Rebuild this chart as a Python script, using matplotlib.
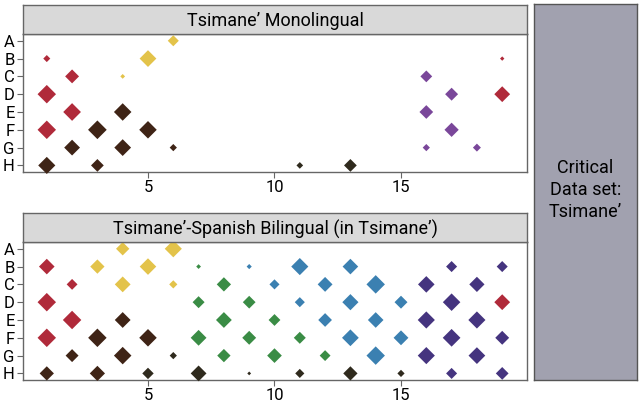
import numpy as np
import matplotlib.pyplot as plt

plt.rcParams['font.family'] = ['Liberation Sans Narrow', 'Roboto', 'DejaVu Sans']

rows = ['A', 'B', 'C', 'D', 'E', 'F', 'G', 'H']

# Tsimane' Monolingual
mono_x = [6, 1, 5, 19, 2, 4, 16, 1, 17, 19, 2, 4, 16, 1, 3, 5, 17,
          2, 4, 6, 16, 18, 1, 3, 11, 13]
mono_row = ['A', 'B', 'B', 'B', 'C', 'C', 'C', 'D', 'D', 'D', 'E', 'E', 'E',
            'F', 'F', 'F', 'F', 'G', 'G', 'G', 'G', 'G', 'H', 'H', 'H', 'H']
mono_size = [5.8, 3.7, 8.8, 2.3, 7.3, 2.5, 6.2, 9.7, 6.8, 8.3, 9.3, 9.2, 7.2,
             9.7, 9.8, 9.2, 7.5, 8.3, 8.8, 3.8, 3.8, 4.2, 9.0, 6.7, 3.5, 6.7]
mono_grp = ['yellow', 'red', 'yellow', 'red', 'red', 'yellow', 'purple',
            'red', 'purple', 'red', 'red', 'brown', 'purple', 'red', 'brown',
            'brown', 'purple', 'brown', 'brown', 'brown', 'purple', 'purple',
            'brown', 'brown', 'dark', 'dark']

# Tsimane'-Spanish Bilingual (in Tsimane')
bil_x = [4, 6,
         1, 3, 5, 7, 9, 11, 13, 17, 19,
         2, 4, 6, 8, 10, 12, 14, 16, 18,
         1, 7, 9, 11, 13, 15, 17, 19,
         2, 4, 8, 10, 12, 14, 16, 18,
         1, 3, 5, 7, 9, 11, 13, 15, 17, 19,
         2, 4, 6, 8, 10, 12, 14, 16, 18,
         1, 3, 5, 7, 9, 11, 13, 15, 17, 19]
bil_row = (['A'] * 2 + ['B'] * 9 + ['C'] * 9 + ['D'] * 8 + ['E'] * 8
           + ['F'] * 10 + ['G'] * 9 + ['H'] * 10)
bil_size = [7.0, 9.0,
            8.2, 7.5, 8.7, 2.5, 2.7, 9.0, 8.2, 5.8, 5.8,
            5.7, 8.3, 4.3, 7.5, 5.3, 7.8, 9.7, 8.7, 8.0,
            9.7, 6.3, 6.7, 5.3, 8.5, 6.8, 9.2, 8.3,
            9.7, 8.3, 8.3, 6.2, 7.2, 8.2, 9.0, 9.0,
            9.7, 9.7, 9.2, 8.3, 7.3, 6.3, 8.8, 7.8, 9.3, 7.3,
            6.8, 9.2, 3.8, 7.0, 7.7, 5.7, 9.7, 9.0, 8.8,
            7.5, 8.0, 6.0, 8.3, 2.0, 4.8, 7.5, 3.8, 5.8, 6.7]
bil_grp = (['yellow', 'yellow']
           + ['red', 'yellow', 'yellow', 'green', 'blue', 'blue', 'blue', 'indigo', 'indigo']
           + ['red', 'yellow', 'yellow', 'green', 'blue', 'blue', 'blue', 'indigo', 'indigo']
           + ['red', 'green', 'green', 'blue', 'blue', 'blue', 'indigo', 'red']
           + ['red', 'brown', 'green', 'green', 'blue', 'blue', 'indigo', 'indigo']
           + ['red', 'brown', 'brown', 'green', 'green', 'green', 'blue', 'blue', 'indigo', 'indigo']
           + ['brown', 'brown', 'dark', 'green', 'green', 'green', 'blue', 'indigo', 'indigo']
           + ['brown', 'brown', 'dark', 'dark', 'dark', 'dark', 'dark', 'dark', 'indigo', 'indigo'])

colors = {'red': '#b02a3a', 'yellow': '#e3c34a', 'brown': '#3f2416',
          'dark': '#2f2a1d', 'green': '#3a8c45', 'blue': '#3b80b1',
          'purple': '#7a479a', 'indigo': '#45347f'}

W, H = 642, 405
fig = plt.figure(figsize=(W / 100, H / 100), dpi=100)


def panel(top, title, xs, rws, sizes, grps):
    # top in pixels from the top edge of the figure
    ax = fig.add_axes([23 / W, 1 - (top + 138) / H, 504 / W, 138 / H])
    ys = [rows.index(r) for r in rws]
    cs = [colors[g] for g in grps]
    ax.scatter(xs, ys, s=(np.array(sizes) * 0.97) ** 2, c=cs, marker='D',
               linewidths=0, clip_on=False, zorder=3)
    ax.set_xlim(0.06, 19.98)
    ax.set_ylim(7.37, -0.38)
    ax.set_xticks([5, 10, 15])
    ax.set_yticks(range(8))
    ax.set_yticklabels(rows)
    for s in ax.spines.values():
        s.set_color('#666666')
        s.set_linewidth(1.0)
    ax.tick_params(colors='#666666', labelcolor='black', labelsize=12,
                   length=4, width=0.8, pad=2)
    # strip header
    sax = fig.add_axes([23 / W, 1 - top / H, 504 / W, 29 / H])
    sax.set_xticks([])
    sax.set_yticks([])
    sax.set_facecolor('#d9d9d9')
    for s in sax.spines.values():
        s.set_color('#666666')
        s.set_linewidth(1.0)
    sax.text(0.5, 0.45, title, ha='center', va='center', fontsize=13,
             transform=sax.transAxes)
    return ax


panel(34, "Tsimane\u2019 Monolingual", mono_x, mono_row, mono_size, mono_grp)
panel(242, "Tsimane\u2019-Spanish Bilingual (in Tsimane\u2019)", bil_x, bil_row,
      bil_size, bil_grp)

rax = fig.add_axes([534 / W, 1 - 380 / H, 103 / W, 376 / H])
rax.set_xticks([])
rax.set_yticks([])
rax.set_facecolor('#a1a1af')
for s in rax.spines.values():
    s.set_color('#555555')
    s.set_linewidth(1.0)
rax.text(0.5, 0.505, "Critical\nData set:\nTsimane\u2019", ha='center',
         va='center', fontsize=13, linespacing=1.3, transform=rax.transAxes)

fig.savefig('out.png', dpi=100)
